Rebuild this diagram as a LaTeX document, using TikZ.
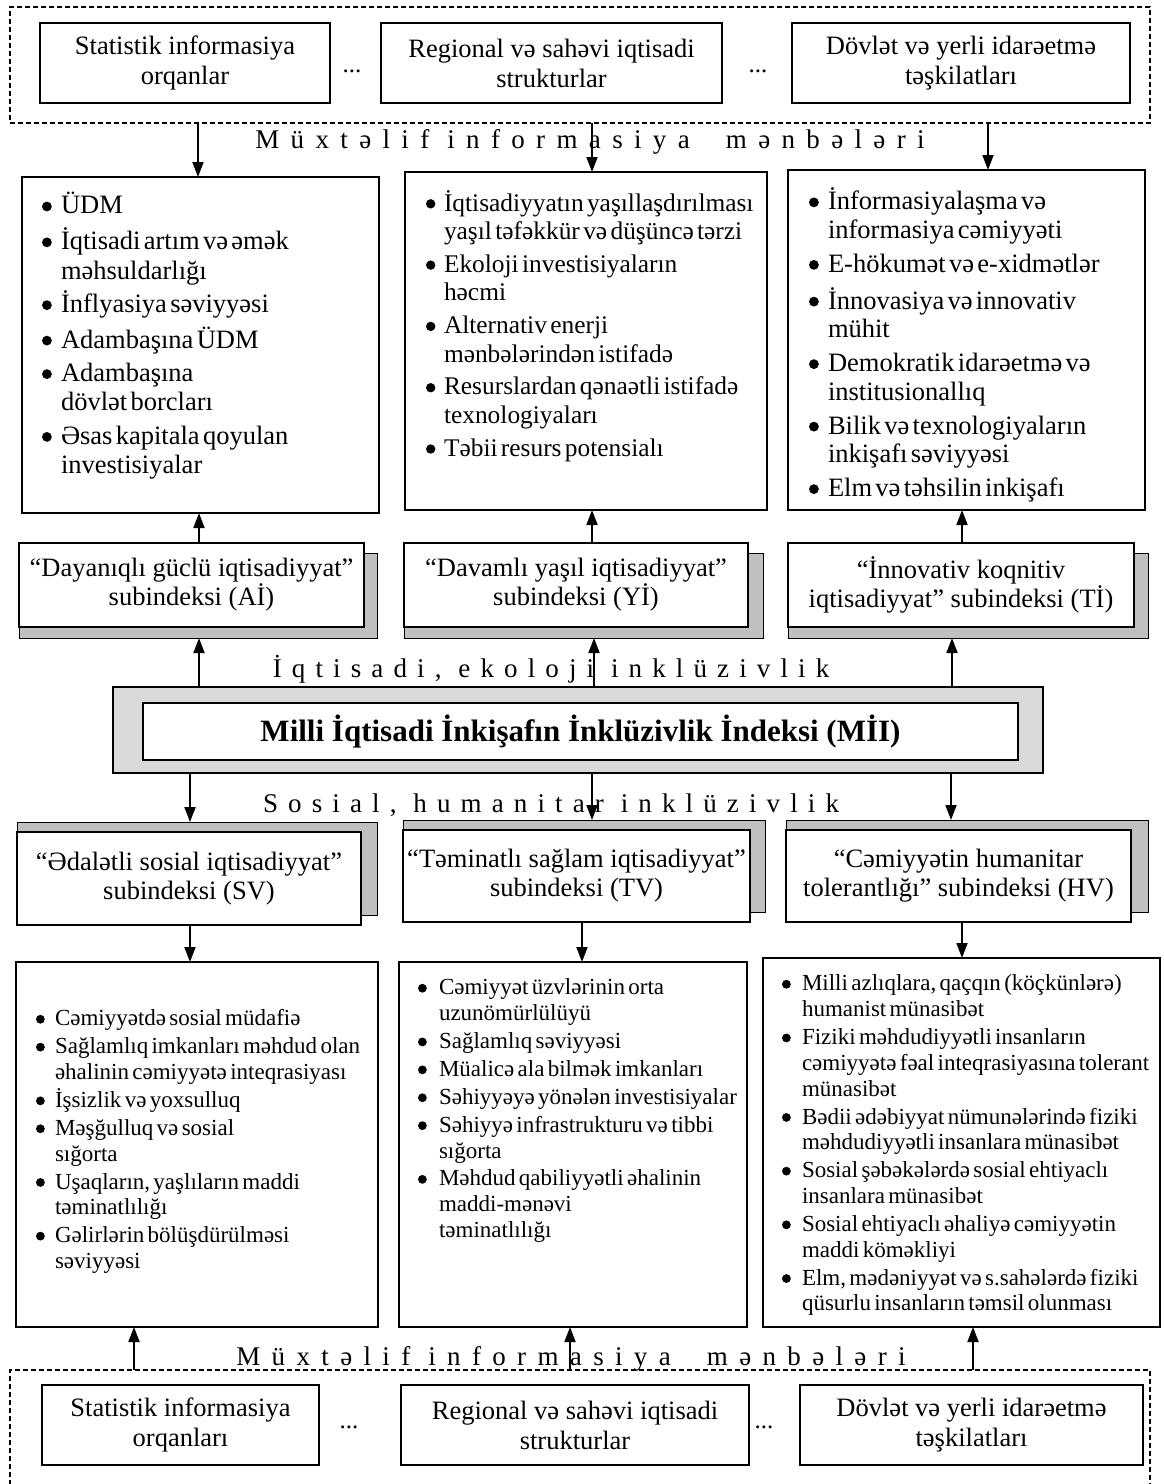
\documentclass[tikz,border=0pt]{standalone}
\usepackage{fontspec}
\setmainfont{Liberation Serif}
\newfontfamily\spacedfont[LetterSpace=42]{Liberation Serif}
\newfontfamily\spacedfontb[LetterSpace=37.5]{Liberation Serif}
\usetikzlibrary{arrows.meta}
\definecolor{shadowgray}{RGB}{192,192,192}
\definecolor{mgray}{RGB}{217,217,217}
\newlength{\bulind}
\newlength{\bulc}
\newlength{\bulr}
\newcommand{\bul}{\tikz[baseline=0pt]\fill (0pt,\bulc) circle (\bulr);}
\newcommand{\itm}[1]{\par\hangindent=\bulind\hangafter=1\noindent\strut\makebox[\bulind][l]{\bul}#1\par}
% [style]{name}{x1}{y1}{x2}{y2}{text}
\newcommand{\rbox}[7][]{\node[#1, minimum width={#5-#3}, minimum height={#6-#4}] (#2) at ({(#3+#5)/2},{(#4+#6)/2}) {#7};}
\tikzset{
  every node/.style={inner sep=0pt, outer sep=0pt},
  bx/.style={draw, line width=1.3pt, fill=white},
  dbox/.style={draw, line width=1.2pt, dash pattern=on 5pt off 3pt},
  shad/.style={draw, line width=0.9pt, fill=shadowgray},
  arr/.style={line width=1.8pt, -{Triangle[length=15pt,width=11pt]}},
  lst/.style={anchor=north west, align=left},
  hdr/.style={font=\fontsize{26.5}{30}\selectfont, align=center},
  sub/.style={font=\fontsize{26.5}{29}\selectfont, align=center},
  sp/.style={font={\spacedfont\fontsize{27}{30}\selectfont}, anchor=base},
  spb/.style={font={\spacedfontb\fontsize{27}{30}\selectfont}, anchor=base},
  dots/.style={font=\fontsize{25}{29}\selectfont, anchor=base},
}
\begin{document}
\begin{tikzpicture}[x=1pt, y=-1pt]
\useasboundingbox (0,0) rectangle (1163,1484);
% ---------- top sources ----------
\rbox[dbox]{topgrp}{10}{7}{1150}{123}{}
\rbox[bx,hdr]{A1}{40}{23}{330}{103}{Statistik informasiya\\orqanlar}
\rbox[bx,hdr]{A2}{381}{23}{722}{103}{Regional və sahəvi iqtisadi\\strukturlar}
\rbox[bx,hdr]{A3}{792}{23}{1130}{103}{Dövlət və yerli idarəetmə\\təşkilatları}
\node[dots] (dt1) at (352,72) {...};
\node[dots] (dt2) at (758,72) {...};
\node[sp] (lbl1) at (590,148) {Müxtəlif informasiya~~mənbələri};
% ---------- indicator boxes (top) ----------
\rbox[bx]{B1}{22}{177}{379}{513}{}
\rbox[bx]{B2}{405}{172}{767}{510}{}
\rbox[bx]{B3}{788}{170}{1145}{510}{}
\node[lst, text width=335pt] (B1t) at (42,{201-0.7*29.3}) {\fontsize{26.5}{29.3}\selectfont\setlength{\parskip}{4.2pt}\setlength{\bulind}{19pt}\setlength{\bulc}{7.5pt}\setlength{\bulr}{4.9pt}%
\itm{ÜDM}
\itm{İqtisadi artım və əmək\newline məhsuldarlığı}
\itm{İnflyasiya səviyyəsi}
\itm{Adambaşına ÜDM}
\itm{Adambaşına\newline dövlət borcları}
\itm{Əsas kapitala qoyulan\newline investisiyalar}};
\node[lst, text width=339pt] (B2t) at (426,{198-0.7*28.4}) {\fontsize{25.4}{28.4}\selectfont\setlength{\parskip}{4.5pt}\setlength{\bulind}{18pt}\setlength{\bulc}{7.2pt}\setlength{\bulr}{4.7pt}%
\itm{İqtisadiyyatın yaşıllaşdırılması\newline yaşıl təfəkkür və düşüncə tərzi}
\itm{Ekoloji investisiyaların\newline həcmi}
\itm{Alternativ enerji\newline mənbələrindən istifadə}
\itm{Resurslardan qənaətli istifadə\newline texnologiyaları}
\itm{Təbii resurs potensialı}};
\node[lst, text width=334pt] (B3t) at (809,{196-0.7*28.6}) {\fontsize{26.5}{28.6}\selectfont\setlength{\parskip}{5.3pt}\setlength{\bulind}{19pt}\setlength{\bulc}{7.5pt}\setlength{\bulr}{4.9pt}%
\itm{İnformasiyalaşma və\newline informasiya cəmiyyəti}
\itm{E-hökumət və e-xidmətlər}
\itm{İnnovasiya və innovativ\newline mühit}
\itm{Demokratik idarəetmə və\newline institusionallıq}
\itm{Bilik və texnologiyaların\newline inkişafı səviyyəsi}
\itm{Elm və təhsilin inkişafı}};
% ---------- sub-indices (top) ----------
\rbox[shad]{C1s}{19}{553}{377}{638}{}
\rbox[shad]{C2s}{404}{553}{763}{638}{}
\rbox[shad]{C3s}{788}{553}{1148}{638}{}
\rbox[bx,sub]{C1}{19}{543}{364}{627}{“Dayanıqlı güclü iqtisadiyyat”\\subindeksi (Aİ)}
\rbox[bx,sub]{C2}{404}{543}{748}{627}{“Davamlı yaşıl iqtisadiyyat”\\subindeksi (Yİ)}
\rbox[bx,sub]{C3}{788}{543}{1134}{627}{“İnnovativ koqnitiv\\iqtisadiyyat” subindeksi (Tİ)}
\node[spb] (lbl2) at (551,677) {İqtisadi, ekoloji inklüzivlik};
% ---------- main index ----------
\rbox[draw, line width=1.3pt, fill=mgray]{MIIo}{113}{687}{1043}{773}{}
\rbox[bx, font=\bfseries\fontsize{31}{36}\selectfont]{MII}{143}{703}{1018}{760}{Milli İqtisadi İnkişafın İnklüzivlik İndeksi (MİI)}
\node[spb] (lbl3) at (551,812) {Sosial, humanitar inklüzivlik};
% ---------- sub-indices (bottom) ----------
\rbox[shad]{D1s}{17}{822}{377}{915}{}
\rbox[shad]{D2s}{403}{820}{765}{912}{}
\rbox[shad]{D3s}{786}{820}{1148}{912}{}
\rbox[bx,sub]{D1}{17}{832}{361}{925}{“Ədalətli sosial iqtisadiyyat”\\subindeksi (SV)}
\rbox[bx,sub]{D2}{403}{830}{750}{922}{“Təminatlı sağlam iqtisadiyyat”\\subindeksi (TV)}
\rbox[bx,sub]{D3}{786}{830}{1131}{922}{“Cəmiyyətin humanitar\\tolerantlığı” subindeksi (HV)}
% ---------- indicator boxes (bottom) ----------
\rbox[bx]{E1}{16}{962}{378}{1327}{}
\rbox[bx]{E2}{399}{962}{747}{1327}{}
\rbox[bx]{E3}{763}{958}{1160}{1327}{}
\node[lst, text width=340pt] (E1t) at (36,{1016-0.7*25.8}) {\fontsize{23}{25.8}\selectfont\setlength{\parskip}{2.1pt}\setlength{\bulind}{19pt}\setlength{\bulc}{6.6pt}\setlength{\bulr}{4.4pt}%
\itm{Cəmiyyətdə sosial müdafiə}
\itm{Sağlamlıq imkanları məhdud olan\newline əhalinin cəmiyyətə inteqrasiyası}
\itm{İşsizlik və yoxsulluq}
\itm{Məşğulluq və sosial\newline sığorta}
\itm{Uşaqların, yaşlıların maddi\newline təminatlılığı}
\itm{Gəlirlərin bölüşdürülməsi\newline səviyyəsi}};
\node[lst, text width=327pt] (E2t) at (418,{985-0.7*25.8}) {\fontsize{23}{25.8}\selectfont\setlength{\parskip}{2.1pt}\setlength{\bulind}{21pt}\setlength{\bulc}{6.6pt}\setlength{\bulr}{4.4pt}%
\itm{Cəmiyyət üzvlərinin orta\newline uzunömürlülüyü}
\itm{Sağlamlıq səviyyəsi}
\itm{Müalicə ala bilmək imkanları}
\itm{Səhiyyəyə yönələn investisiyalar}
\itm{Səhiyyə infrastrukturu və tibbi\newline sığorta}
\itm{Məhdud qabiliyyətli əhalinin\newline maddi-mənəvi\newline təminatlılığı}};
\node[lst, text width=376pt] (E3t) at (782,{981-0.7*25.8}) {\fontsize{23}{25.8}\selectfont\setlength{\parskip}{2.1pt}\setlength{\bulind}{20pt}\setlength{\bulc}{6.6pt}\setlength{\bulr}{4.4pt}%
\itm{Milli azlıqlara, qaçqın (köçkünlərə)\newline humanist münasibət}
\itm{Fiziki məhdudiyyətli insanların\newline cəmiyyətə fəal inteqrasiyasına tolerant\newline münasibət}
\itm{Bədii ədəbiyyat nümunələrində fiziki\newline məhdudiyyətli insanlara münasibət}
\itm{Sosial şəbəkələrdə sosial ehtiyaclı\newline insanlara münasibət}
\itm{Sosial ehtiyaclı əhaliyə cəmiyyətin\newline maddi köməkliyi}
\itm{Elm, mədəniyyət və s.sahələrdə fiziki\newline qüsurlu insanların təmsil olunması}};
% ---------- bottom sources ----------
\node[sp] (lbl4) at (571,1365) {Müxtəlif informasiya~~mənbələri};
\rbox[dbox]{botgrp}{10}{1370}{1150}{1500}{}
\rbox[bx,hdr]{F1}{42}{1385}{319}{1465}{Statistik informasiya\\orqanları}
\rbox[bx,hdr]{F2}{401}{1385}{749}{1465}{Regional və sahəvi iqtisadi\\strukturlar}
\rbox[bx,hdr]{F3}{800}{1385}{1143}{1465}{Dövlət və yerli idarəetmə\\təşkilatları}
\node[dots] (dt3) at (349,1428) {...};
\node[dots] (dt4) at (764,1428) {...};
% ---------- arrow columns ----------
\coordinate (xa1) at (198,0);  \coordinate (xa2) at (592,0);  \coordinate (xa3) at (988,0);
\coordinate (xb1) at (199,0);  \coordinate (xb2) at (592,0);  \coordinate (xb3) at (962,0);
\coordinate (xc1) at (199,0);  \coordinate (xc2) at (594,0);  \coordinate (xc3) at (952,0);
\coordinate (xd1) at (190,0);  \coordinate (xd2) at (592,0);  \coordinate (xd3) at (951,0);
\coordinate (xe1) at (190,0);  \coordinate (xe2) at (582,0);  \coordinate (xe3) at (962,0);
\coordinate (xf1) at (134,0);  \coordinate (xf2) at (570,0);  \coordinate (xf3) at (973,0);
\draw[arr] (xa1 |- topgrp.south) -- (xa1 |- B1.north);
\draw[arr] (xa2 |- topgrp.south) -- (xa2 |- B2.north);
\draw[arr] (xa3 |- topgrp.south) -- (xa3 |- B3.north);
\draw[arr] (xb1 |- C1.north) -- (xb1 |- B1.south);
\draw[arr] (xb2 |- C2.north) -- (xb2 |- B2.south);
\draw[arr] (xb3 |- C3.north) -- (xb3 |- B3.south);
\draw[arr] (xc1 |- MIIo.north) -- (xc1 |- C1s.south);
\draw[arr] (xc2 |- MIIo.north) -- (xc2 |- C2s.south);
\draw[arr] (xc3 |- MIIo.north) -- (xc3 |- C3s.south);
\draw[arr] (xd1 |- MIIo.south) -- (xd1 |- D1s.north);
\draw[arr] (xd2 |- MIIo.south) -- (xd2 |- D2s.north);
\draw[arr] (xd3 |- MIIo.south) -- (xd3 |- D3s.north);
\draw[arr] (xe1 |- D1.south) -- (xe1 |- E1.north);
\draw[arr] (xe2 |- D2.south) -- (xe2 |- E2.north);
\draw[arr] (xe3 |- D3.south) -- (xe3 |- E3.north);
\draw[arr] (xf1 |- botgrp.north) -- (xf1 |- E1.south);
\draw[arr] (xf2 |- botgrp.north) -- (xf2 |- E2.south);
\draw[arr] (xf3 |- botgrp.north) -- (xf3 |- E3.south);
\end{tikzpicture}
\end{document}
